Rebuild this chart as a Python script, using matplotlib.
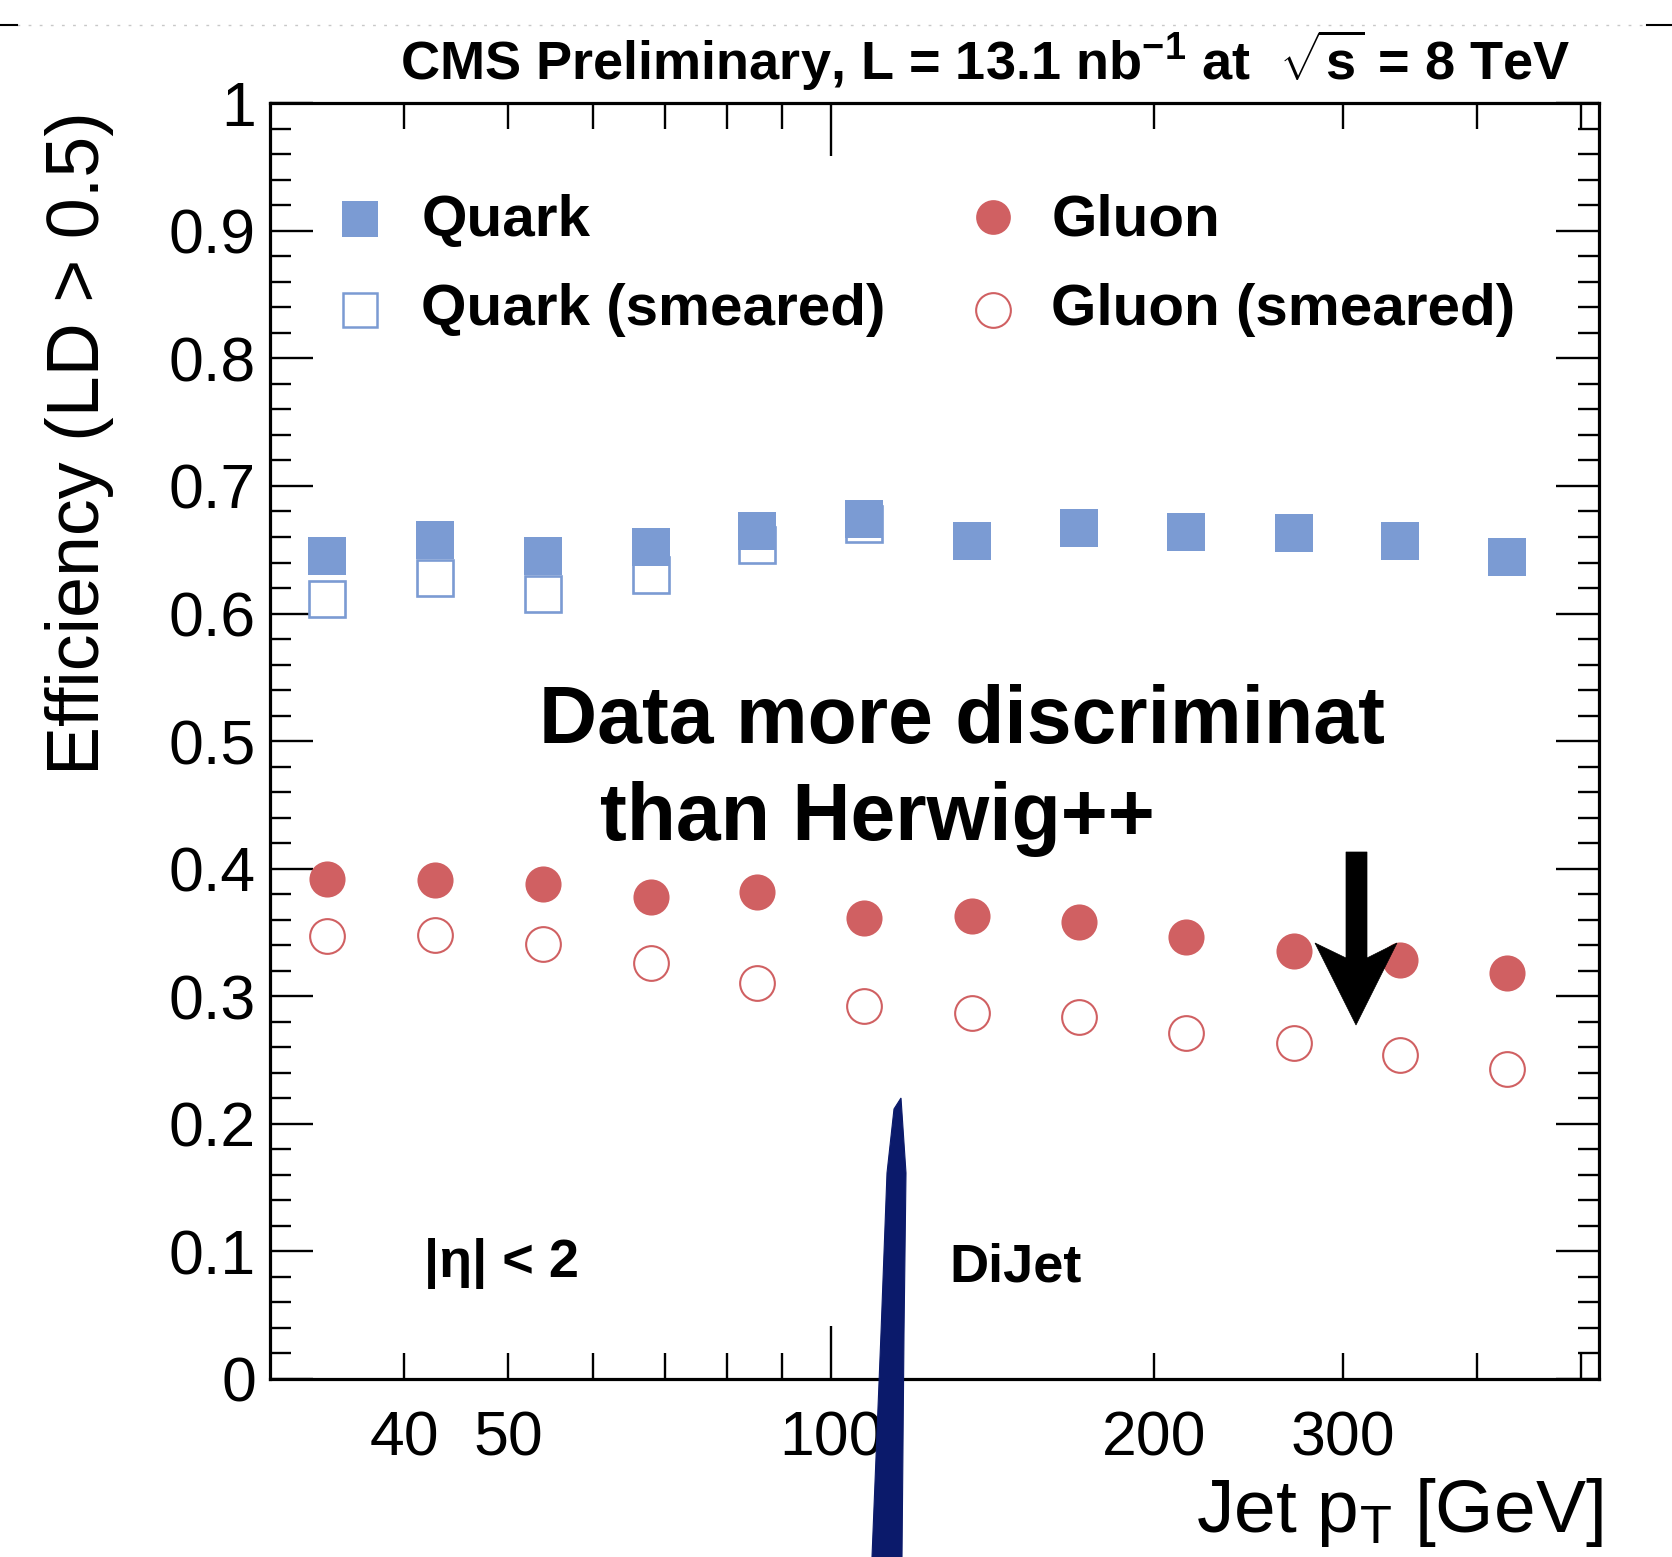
#!/usr/bin/env python3
from __future__ import annotations

import matplotlib

matplotlib.use("Agg")
import matplotlib.pyplot as plt
from matplotlib.patches import Polygon
from matplotlib.ticker import FixedLocator, FuncFormatter, MultipleLocator

# jet pT bin centres [GeV]
pt_centres = [33.9, 42.8, 53.9, 67.9, 85.4, 107.4, 135.2, 170.3, 214.1, 269.8, 339.2, 426.2]

quark_eff = [0.645, 0.658, 0.645, 0.652, 0.665, 0.674, 0.657, 0.667, 0.664, 0.663, 0.657, 0.644]
quark_smeared_pt = [33.9, 42.8, 53.9, 67.9, 85.4, 107.4]
quark_smeared_eff = [0.611, 0.628, 0.615, 0.630, 0.654, 0.670]

gluon_eff = [0.392, 0.391, 0.388, 0.378, 0.382, 0.361, 0.363, 0.358, 0.346, 0.335, 0.328, 0.318]
gluon_smeared_eff = [0.347, 0.348, 0.341, 0.326, 0.310, 0.292, 0.287, 0.284, 0.271, 0.263, 0.254, 0.243]

x_tick_labels = {40: "40", 50: "50", 100: "100", 200: "200", 300: "300"}

QUARK_COLOR = "#7b9bd3"
GLUON_COLOR = "#d06062"
STREAK_COLOR = "#0b1a6b"

W, H = 1672, 1557


def px(x: float, y: float) -> tuple[float, float]:
    # full-size pixel position (y from top) -> figure fraction
    return x / W, 1 - y / H


def style_axes(ax: plt.Axes) -> None:
    ax.set_xscale("log")
    ax.set_xlim(30, 520)
    ax.set_ylim(0, 1)

    ax.xaxis.set_major_locator(FixedLocator([100]))
    ax.xaxis.set_minor_locator(FixedLocator([40, 50, 60, 70, 80, 90, 200, 300, 400, 500]))
    fmt = FuncFormatter(lambda v, _: x_tick_labels.get(int(round(v)), ""))
    ax.xaxis.set_major_formatter(fmt)
    ax.xaxis.set_minor_formatter(fmt)

    ax.yaxis.set_major_locator(MultipleLocator(0.1))
    ax.yaxis.set_minor_locator(MultipleLocator(0.02))
    ax.yaxis.set_major_formatter(
        FuncFormatter(lambda v, _: "0" if abs(v) < 1e-9 else ("1" if abs(v - 1) < 1e-9 else f"{v:.1f}"))
    )

    for sp in ax.spines.values():
        sp.set_linewidth(2.3)

    ax.tick_params(which="both", direction="in", top=True, right=True, width=1.7, colors="black")
    ax.tick_params(axis="y", which="major", length=31, labelsize=45, pad=10)
    ax.tick_params(axis="y", which="minor", length=15)
    ax.tick_params(axis="x", which="major", length=38, labelsize=45, pad=22)
    ax.tick_params(axis="x", which="minor", length=19, labelsize=45, pad=22)


def draw_legend(ax: plt.Axes) -> None:
    kw = dict(transform=ax.transAxes, clip_on=False, linestyle="none")
    ax.plot([0.0681], [0.9096], marker="s", ms=26, color=QUARK_COLOR, mew=0, **kw)
    ax.plot([0.0681], [0.8378], marker="s", ms=25, mfc="white", mec=QUARK_COLOR, mew=1.8, **kw)
    ax.plot([0.5436], [0.9113], marker="o", ms=25, color=GLUON_COLOR, mew=0, **kw)
    ax.plot([0.5436], [0.8378], marker="o", ms=25, mfc="white", mec=GLUON_COLOR, mew=1.5, **kw)

    tkw = dict(transform=ax.transAxes, fontsize=42, fontweight="bold", va="baseline", ha="left")
    ax.text(0.1139, 0.8963, "Quark", **tkw)
    ax.text(0.1139, 0.8261, "Quark (smeared)", **tkw)
    ax.text(0.5878, 0.8963, "Gluon", **tkw)
    ax.text(0.5878, 0.8261, "Gluon (smeared)", **tkw)


def main() -> None:
    plt.rcParams["font.family"] = ["Liberation Sans", "DejaVu Sans"]
    plt.rcParams["mathtext.fontset"] = "custom"
    plt.rcParams["mathtext.rm"] = "Liberation Sans"
    plt.rcParams["mathtext.bf"] = "Liberation Sans:bold"
    plt.rcParams["mathtext.it"] = "Liberation Sans:italic"

    fig = plt.figure(figsize=(W / 100, H / 100), dpi=100)
    ax = fig.add_axes([0.1614, 0.1145, 0.7952, 0.8191])
    style_axes(ax)

    ax.plot(quark_smeared_pt, quark_smeared_eff, "s", ms=26, mfc="white", mec=QUARK_COLOR, mew=1.9)
    ax.plot(pt_centres, quark_eff, "s", ms=27, color=QUARK_COLOR, mew=0)
    ax.plot(pt_centres, gluon_smeared_eff, "o", ms=25, mfc="white", mec=GLUON_COLOR, mew=1.5)
    ax.plot(pt_centres, gluon_eff, "o", ms=26, color=GLUON_COLOR, mew=0)

    draw_legend(ax)

    ax.text(0.2021, 0.4984, "Data more discriminat", transform=ax.transAxes,
            fontsize=58, fontweight="bold", va="baseline")
    ax.text(0.2486, 0.4222, "than Herwig++", transform=ax.transAxes,
            fontsize=58, fontweight="bold", va="baseline")
    ax.text(0.1163, 0.0794, "|η| < 2", transform=ax.transAxes,
            fontsize=39, fontweight="bold", va="baseline")
    ax.text(0.5108, 0.0761, "DiJet", transform=ax.transAxes,
            fontsize=39, fontweight="bold", va="baseline")

    fig.text(*px(400, 80), r"CMS Preliminary, L = 13.1 nb$^{\mathbf{-1}}$ at  $\mathbf{\sqrt{s}}$ = 8 TeV",
             fontsize=39, fontweight="bold", ha="left", va="baseline")
    fig.text(*px(80, 443), "Efficiency (LD > 0.5)", rotation=90, fontsize=53,
             ha="center", va="center")
    fig.text(*px(1603, 1532), r"Jet p$_\mathrm{T}$ [GeV]", fontsize=54, ha="right", va="baseline")

    # black arrow pointing at the high-pT gluon points
    arrow = [(1346, 852), (1367, 852), (1367, 958), (1397, 943), (1356, 1025), (1315, 943), (1346, 958)]
    fig.patches.append(Polygon([px(x, y) for x, y in arrow], closed=True, transform=fig.transFigure,
                               facecolor="black", edgecolor="black", lw=0.5, zorder=5))

    # pen stroke left over on the original figure
    streak = [(901, 1098), (906, 1173), (904, 1333), (902, 1557), (872, 1557),
              (881, 1333), (887, 1173), (894, 1109)]
    fig.patches.append(Polygon([px(x, y) for x, y in streak], closed=True, transform=fig.transFigure,
                               facecolor=STREAK_COLOR, edgecolor=STREAK_COLOR, lw=0.8, zorder=6))

    # page border remnant at the top
    y_top = 1 - 25 / H
    fig.add_artist(plt.Line2D([17 / W, 1647 / W], [y_top, y_top], transform=fig.transFigure,
                              color="#c8c8c8", lw=1.0, ls=(0, (2, 6))))
    fig.add_artist(plt.Line2D([0, 17 / W], [y_top, y_top], transform=fig.transFigure, color="black", lw=1.5))
    fig.add_artist(plt.Line2D([1647 / W, 1], [y_top, y_top], transform=fig.transFigure, color="black", lw=1.5))

    fig.savefig("out.png", dpi=100)
    plt.close(fig)


if __name__ == "__main__":
    main()
